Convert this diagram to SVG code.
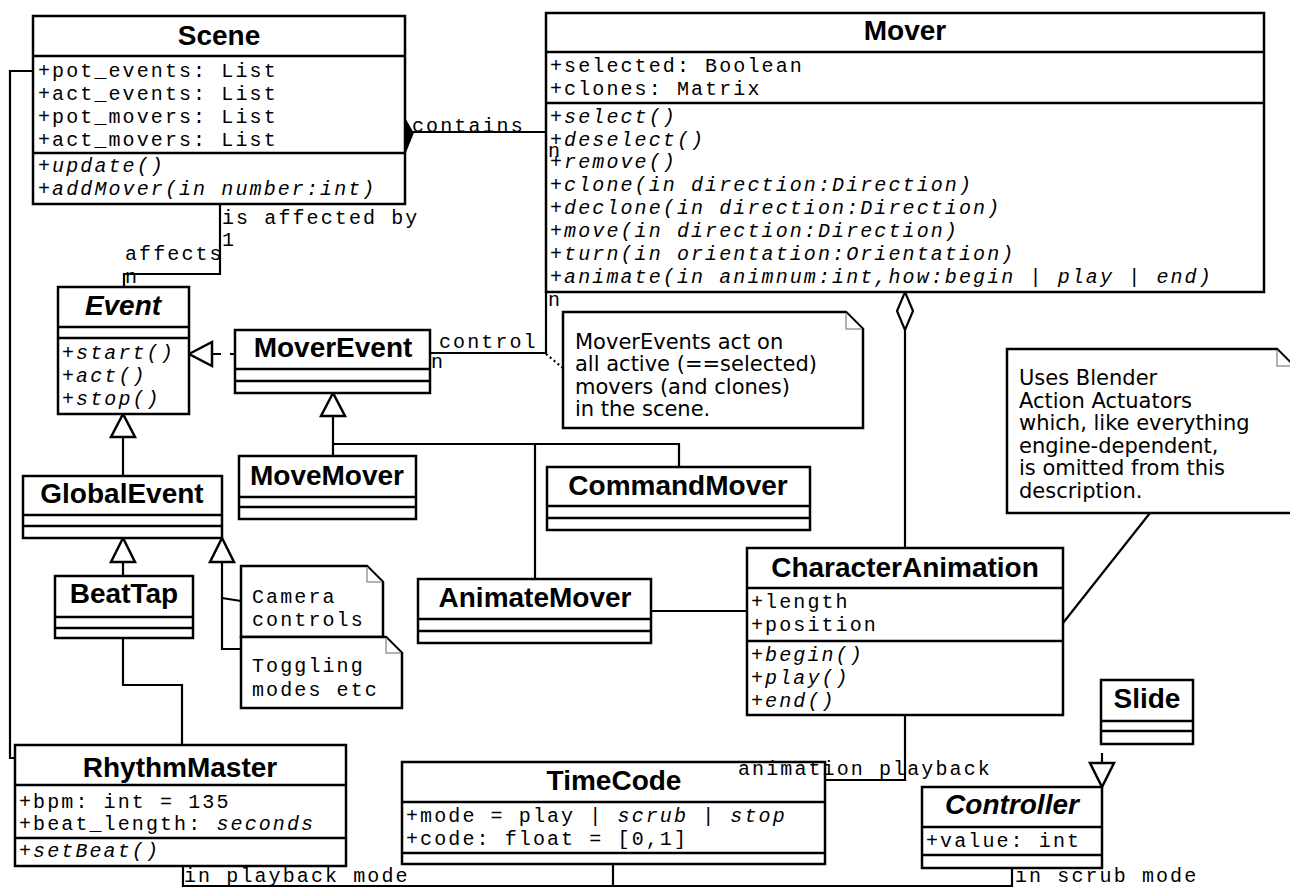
<svg xmlns="http://www.w3.org/2000/svg" width="1290" height="889" viewBox="0 0 1290 889">
<style>
.box{fill:#fff;stroke:#000;stroke-width:2.5}
.dv{stroke:#000;stroke-width:2.5}
.t{font-family:"Liberation Sans",Arial,sans-serif;font-weight:bold;font-size:28px;text-anchor:middle;fill:#000}
.ab{font-style:italic}
.m{font-family:"Liberation Mono","Courier New",monospace;font-size:20px;letter-spacing:2.1px;fill:#000}
.i{font-style:italic}
.note{fill:#fff;stroke:#000;stroke-width:2.5}
.fold{fill:#fff;stroke:#999;stroke-width:1.5}
.nt{font-family:"DejaVu Sans",sans-serif;font-size:21px;fill:#000}
.ln{fill:none;stroke:#000;stroke-width:2.2}
.tri{fill:#fff;stroke:#000;stroke-width:2.5}
</style>

<g id="connectors">
  <!-- Scene contains Mover -->
  <line class="ln" x1="413" y1="132" x2="546" y2="132"/>
  <polygon points="405,119 413,133 405,153 397,133" fill="#000" stroke="#000" stroke-width="1.5"/>
  <!-- Scene - Event -->
  <polyline class="ln" points="220,204 220,274 124,274 124,287"/>
  <!-- Scene - RhythmMaster -->
  <polyline class="ln" points="33,71 10,71 10,758 15,758"/>
  <!-- MoverEvent realizes Event -->
  <line class="ln" x1="212" y1="354" x2="235" y2="354" stroke-dasharray="9,9"/>
  <polygon class="tri" points="189,354 212,342 212,366"/>
  <!-- GlobalEvent -> Event -->
  <line class="ln" x1="123" y1="437" x2="123" y2="476"/>
  <polygon class="tri" points="123,414 111,437 135,437"/>
  <!-- BeatTap -> GlobalEvent -->
  <line class="ln" x1="123" y1="562" x2="123" y2="576"/>
  <polygon class="tri" points="123,538 111,562 135,562"/>
  <!-- notes -> GlobalEvent -->
  <polyline class="ln" points="222,562 222,649 241,649"/>
  <line class="ln" x1="222" y1="598" x2="241" y2="601"/>
  <polygon class="tri" points="222,538 210,562 234,562"/>
  <!-- subclasses -> MoverEvent -->
  <line class="ln" x1="333" y1="416" x2="333" y2="456"/>
  <polyline class="ln" points="333,444 679,444 679,467"/>
  <line class="ln" x1="535" y1="444" x2="535" y2="579"/>
  <polygon class="tri" points="333,393 321,416 345,416"/>
  <!-- MoverEvent control Mover -->
  <polyline class="ln" points="430,353 546,353 546,292"/>
  <line class="ln" x1="546" y1="354" x2="563" y2="368" stroke-dasharray="2,3"/>
  <!-- Mover aggregates CharacterAnimation -->
  <line class="ln" x1="905" y1="330" x2="905" y2="548"/>
  <polygon points="905,292 913,311 905,330 897,311" fill="#fff" stroke="#000" stroke-width="2.2"/>
  <!-- AnimateMover - CharacterAnimation -->
  <line class="ln" x1="651" y1="611" x2="747" y2="611"/>
  <!-- note - CharacterAnimation -->
  <line class="ln" x1="1063" y1="623" x2="1150" y2="513"/>
  <!-- BeatTap - RhythmMaster -->
  <polyline class="ln" points="123,638 123,685 182,685 182,745"/>
  <!-- CharacterAnimation - TimeCode -->
  <polyline class="ln" points="905,715 905,780 825,780"/>
  <!-- bottom bus -->
  <polyline class="ln" points="183,866 183,886 1012,886 1012,868"/>
  <line class="ln" x1="613" y1="864" x2="613" y2="886"/>
  <!-- Slide -> Controller -->
  <line class="ln" x1="1102" y1="753" x2="1102" y2="763"/>
  <polygon class="tri" points="1102,787 1090,763 1114,763"/>
</g>

<g id="Scene">
  <rect class="box" x="33" y="16" width="372" height="188"/>
  <line class="dv" x1="33" y1="56" x2="405" y2="56"/>
  <line class="dv" x1="33" y1="153" x2="405" y2="153"/>
  <text class="t" x="219" y="45">Scene</text>
  <text class="m" x="38" y="77">+pot_events: List</text>
  <text class="m" x="38" y="100">+act_events: List</text>
  <text class="m" x="38" y="123">+pot_movers: List</text>
  <text class="m" x="38" y="146">+act_movers: List</text>
  <text class="m i" x="38" y="172">+update()</text>
  <text class="m i" x="38" y="195">+addMover(in number:int)</text>
</g>

<g id="Mover">
  <rect class="box" x="546" y="13" width="718" height="279"/>
  <line class="dv" x1="546" y1="52" x2="1264" y2="52"/>
  <line class="dv" x1="546" y1="103" x2="1264" y2="103"/>
  <text class="t" x="905" y="40">Mover</text>
  <text class="m" x="550" y="72">+selected: Boolean</text>
  <text class="m" x="550" y="95">+clones: Matrix</text>
  <text class="m i" x="550" y="123">+select()</text>
  <text class="m i" x="550" y="146">+deselect()</text>
  <text class="m i" x="550" y="168">+remove()</text>
  <text class="m i" x="550" y="191">+clone(in direction:Direction)</text>
  <text class="m i" x="550" y="214">+declone(in direction:Direction)</text>
  <text class="m i" x="550" y="237">+move(in direction:Direction)</text>
  <text class="m i" x="550" y="260">+turn(in orientation:Orientation)</text>
  <text class="m i" x="550" y="283">+animate(in animnum:int,how:begin | play | end)</text>
</g>

<g id="Event">
  <rect class="box" x="58" y="287" width="131" height="127"/>
  <line class="dv" x1="58" y1="327" x2="189" y2="327"/>
  <line class="dv" x1="58" y1="338" x2="189" y2="338"/>
  <text class="t ab" x="123" y="315">Event</text>
  <text class="m i" x="62" y="359">+start()</text>
  <text class="m i" x="62" y="382">+act()</text>
  <text class="m i" x="62" y="405">+stop()</text>
</g>

<g id="MoverEvent">
  <rect class="box" x="235" y="330" width="195" height="63"/>
  <line class="dv" x1="235" y1="369" x2="430" y2="369"/>
  <line class="dv" x1="235" y1="381" x2="430" y2="381"/>
  <text class="t" x="333" y="357">MoverEvent</text>
</g>

<g id="NoteMoverEvents">
  <path class="note" d="M563,312 H846 L863,329 V428 H563 Z"/>
  <path class="fold" d="M846,313 V329 H862"/>
  <text class="nt" x="575" y="349">MoverEvents act on</text>
  <text class="nt" x="575" y="371">all active (==selected)</text>
  <text class="nt" x="575" y="394">movers (and clones)</text>
  <text class="nt" x="575" y="416">in the scene.</text>
</g>

<g id="NoteBlender">
  <path class="note" d="M1007,349 H1277 L1294,366 V513 H1007 Z"/>
  <path class="fold" d="M1277,350 V366 H1293"/>
  <text class="nt" x="1019" y="385">Uses Blender</text>
  <text class="nt" x="1019" y="408">Action Actuators</text>
  <text class="nt" x="1019" y="430">which, like everything</text>
  <text class="nt" x="1019" y="453">engine-dependent,</text>
  <text class="nt" x="1019" y="475">is omitted from this</text>
  <text class="nt" x="1019" y="498">description.</text>
</g>

<g id="GlobalEvent">
  <rect class="box" x="23" y="476" width="199" height="62"/>
  <line class="dv" x1="23" y1="515" x2="222" y2="515"/>
  <line class="dv" x1="23" y1="526" x2="222" y2="526"/>
  <text class="t" x="122" y="503">GlobalEvent</text>
</g>

<g id="MoveMover">
  <rect class="box" x="239" y="456" width="177" height="63"/>
  <line class="dv" x1="239" y1="497" x2="416" y2="497"/>
  <line class="dv" x1="239" y1="507" x2="416" y2="507"/>
  <text class="t" x="327" y="485">MoveMover</text>
</g>

<g id="CommandMover">
  <rect class="box" x="547" y="467" width="263" height="63"/>
  <line class="dv" x1="547" y1="506" x2="810" y2="506"/>
  <line class="dv" x1="547" y1="518" x2="810" y2="518"/>
  <text class="t" x="678" y="495">CommandMover</text>
</g>

<g id="AnimateMover">
  <rect class="box" x="418" y="579" width="233" height="64"/>
  <line class="dv" x1="418" y1="619" x2="651" y2="619"/>
  <line class="dv" x1="418" y1="631" x2="651" y2="631"/>
  <text class="t" x="535" y="607">AnimateMover</text>
</g>

<g id="CharacterAnimation">
  <rect class="box" x="747" y="548" width="316" height="167"/>
  <line class="dv" x1="747" y1="588" x2="1063" y2="588"/>
  <line class="dv" x1="747" y1="641" x2="1063" y2="641"/>
  <text class="t" x="905" y="577">CharacterAnimation</text>
  <text class="m" x="751" y="608">+length</text>
  <text class="m" x="751" y="631">+position</text>
  <text class="m i" x="751" y="661">+begin()</text>
  <text class="m i" x="751" y="684">+play()</text>
  <text class="m i" x="751" y="707">+end()</text>
</g>

<g id="BeatTap">
  <rect class="box" x="55" y="576" width="138" height="62"/>
  <line class="dv" x1="55" y1="617" x2="193" y2="617"/>
  <line class="dv" x1="55" y1="628" x2="193" y2="628"/>
  <text class="t" x="124" y="603">BeatTap</text>
</g>

<g id="NoteCamera">
  <path class="note" d="M241,566 H367 L383,582 V637 H241 Z"/>
  <path class="fold" d="M367,567 V582 H382"/>
  <text class="m" x="252" y="603">Camera</text>
  <text class="m" x="252" y="626">controls</text>
</g>

<g id="NoteToggling">
  <path class="note" d="M241,637 H386 L402,653 V708 H241 Z"/>
  <path class="fold" d="M386,638 V653 H401"/>
  <text class="m" x="252" y="672">Toggling</text>
  <text class="m" x="252" y="696">modes etc</text>
</g>

<g id="RhythmMaster">
  <rect class="box" x="15" y="745" width="331" height="121"/>
  <line class="dv" x1="15" y1="785" x2="346" y2="785"/>
  <line class="dv" x1="15" y1="838" x2="346" y2="838"/>
  <text class="t" x="180" y="777">RhythmMaster</text>
  <text class="m" x="19" y="808">+bpm: int = 135</text>
  <text class="m" x="19" y="830">+beat_length: <tspan class="i">seconds</tspan></text>
  <text class="m i" x="19" y="857">+setBeat()</text>
</g>

<g id="TimeCode">
  <rect class="box" x="402" y="762" width="423" height="102"/>
  <line class="dv" x1="402" y1="802" x2="825" y2="802"/>
  <line class="dv" x1="402" y1="853" x2="825" y2="853"/>
  <text class="t" x="614" y="790">TimeCode</text>
  <text class="m" x="406" y="822">+mode = play | <tspan class="i">scrub</tspan> | <tspan class="i">stop</tspan></text>
  <text class="m" x="406" y="845">+code: float = [0,1]</text>
</g>

<g id="Controller">
  <rect class="box" x="922" y="787" width="180" height="81"/>
  <line class="dv" x1="922" y1="827" x2="1102" y2="827"/>
  <line class="dv" x1="922" y1="855" x2="1102" y2="855"/>
  <text class="t ab" x="1012" y="814">Controller</text>
  <text class="m" x="926" y="847">+value: int</text>
</g>

<g id="Slide">
  <rect class="box" x="1101" y="680" width="92" height="64"/>
  <line class="dv" x1="1101" y1="721" x2="1193" y2="721"/>
  <line class="dv" x1="1101" y1="731" x2="1193" y2="731"/>
  <text class="t" x="1147" y="708">Slide</text>
</g>

<g id="connector-labels">
  <text class="m" x="412" y="132">contains</text>
  <text class="m" x="548" y="157">n</text>
  <text class="m" x="222" y="224">is affected by</text>
  <text class="m" x="222" y="246">1</text>
  <text class="m" x="125" y="260">affects</text>
  <text class="m" x="125" y="283">n</text>
  <text class="m" x="439" y="348">control</text>
  <text class="m" x="431" y="368">n</text>
  <text class="m" x="548" y="306">n</text>
  <text class="m" x="738" y="775">animation playback</text>
  <text class="m" x="184" y="882">in playback mode</text>
  <text class="m" x="1015" y="882">in scrub mode</text>
</g>
</svg>
